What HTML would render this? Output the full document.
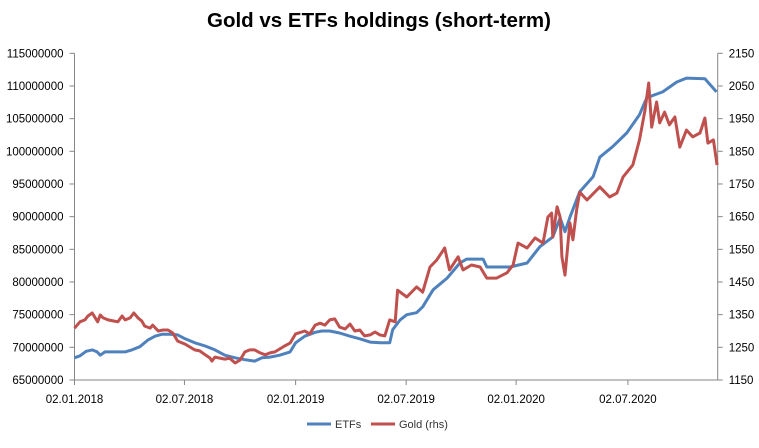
<!DOCTYPE html>
<html><head><meta charset="utf-8">
<style>
body{margin:0;background:#fff;width:759px;height:443px;overflow:hidden;font-family:"Liberation Sans",sans-serif}
svg text{font-family:"Liberation Sans",sans-serif}
</style></head>
<body>
<svg id="chart" width="759" height="443" xmlns="http://www.w3.org/2000/svg">
<text x="379" y="27" text-anchor="middle" font-size="20.5" font-weight="bold" fill="#000">Gold vs ETFs holdings (short-term)</text>
<g id="axes"></g>
<g id="series"></g>
<g>
<line x1="307" y1="424" x2="331" y2="424" stroke="#4F81BD" stroke-width="3"/>
<text x="335" y="428" font-size="11" fill="#333">ETFs</text>
<line x1="371" y1="424" x2="395" y2="424" stroke="#C0504D" stroke-width="3"/>
<text x="399" y="428" font-size="11" fill="#333">Gold (rhs)</text>
</g>
</svg>
<script>
const etfDays=[0,9,19,29,37,42,50,66,83,94,107,120,132,143,156,169,181,197,214,230,246,263,279,295,307,320,336,353,362,377,394,405,418,434,451,467,484,500,516,521,533,544,560,570,587,610,631,642,669,675,713,741,762,783,795,803,811,827,849,860,881,904,925,937,963,986,1002,1032,1051];
const etfValues=[68.4,68.7,69.4,69.6,69.3,68.8,69.3,69.3,69.3,69.6,70.1,71.1,71.7,72.0,72.0,71.9,71.3,70.7,70.2,69.6,68.8,68.4,68.1,67.9,68.4,68.5,68.8,69.3,70.7,71.7,72.3,72.5,72.5,72.2,71.7,71.3,70.8,70.7,70.7,72.7,74.2,75.0,75.3,76.2,78.8,80.6,82.9,83.5,83.5,82.3,82.3,82.9,85.4,86.9,89.8,87.7,89.9,93.8,96.1,99.1,100.7,102.8,105.6,108.2,109.1,110.6,111.2,111.1,109.1];
const goldDays=[0,9,17,22,29,34,38,42,47,55,63,71,78,83,91,97,104,110,115,124,128,137,145,153,161,169,181,189,197,205,214,222,225,230,238,246,254,263,271,279,287,295,304,312,320,328,336,344,353,362,377,385,394,402,410,418,426,434,443,451,459,467,475,484,492,500,508,516,525,529,544,560,570,582,593,606,614,628,636,650,664,675,691,708,718,726,741,754,767,775,781,783,790,795,798,803,811,816,822,827,839,860,876,888,898,914,925,934,940,945,953,958,966,974,983,991,1002,1012,1024,1032,1037,1046,1052];
const goldValues=[1309,1328,1334,1346,1355,1340,1328,1349,1340,1334,1331,1328,1346,1334,1340,1355,1340,1331,1315,1309,1318,1300,1303,1303,1294,1269,1260,1251,1242,1239,1227,1217,1208,1220,1217,1214,1217,1202,1211,1236,1242,1242,1233,1227,1233,1236,1245,1254,1263,1291,1300,1291,1318,1324,1318,1334,1337,1312,1306,1321,1300,1303,1285,1288,1297,1288,1285,1334,1328,1425,1404,1435,1419,1496,1517,1554,1487,1527,1487,1502,1496,1462,1462,1478,1502,1569,1554,1585,1569,1649,1661,1588,1680,1649,1527,1471,1631,1579,1670,1725,1701,1741,1710,1722,1771,1808,1885,1976,2059,1924,2001,1937,1970,1931,1955,1863,1915,1894,1906,1952,1875,1885,1808];
const leftTicks=[65000000,70000000,75000000,80000000,85000000,90000000,95000000,100000000,105000000,110000000,115000000];
const rightTicks=[1150,1250,1350,1450,1550,1650,1750,1850,1950,2050,2150];
const xTickLabels=["02.01.2018","02.07.2018","02.01.2019","02.07.2019","02.01.2020","02.07.2020"];
const xTickDays=[0,180,362,543,723,906];

const X0=74.5,X1=717.7,Y0=380,Y1=53.3,DAYMAX=1053;
const xs=d=>X0+d*(X1-X0)/DAYMAX;
const yL=v=>Y0-(v-65)/(115-65)*(Y0-Y1); // millions
const yR=v=>Y0-(v-1150)/(2150-1150)*(Y0-Y1);
const NS="http://www.w3.org/2000/svg";
const axes=document.getElementById('axes'),series=document.getElementById('series');
function mk(tag,attrs,parent){const e=document.createElementNS(NS,tag);for(const k in attrs)e.setAttribute(k,attrs[k]);parent.appendChild(e);return e;}

let e;
e=mk('line',{x1:X0,y1:Y1,x2:X0,y2:Y0,stroke:'#868686','stroke-width':1},axes);


e=mk('line',{x1:X1,y1:Y1,x2:X1,y2:Y0,stroke:'#868686','stroke-width':1},axes);


e=mk('line',{x1:X0,y1:Y0,x2:X1,y2:Y0,stroke:'#868686','stroke-width':1},axes);



leftTicks.forEach(v=>{const y=yL(v/1e6);
 mk('line',{x1:X0-5,y1:y,x2:X0,y2:y,stroke:'#868686'},axes);
 e=mk('text',{x:X0-11,y:y+4,'text-anchor':'end','font-size':11.5,fill:'#000'},axes);
 e.textContent=String(v);
 
 
});
rightTicks.forEach(v=>{const y=yR(v);
 mk('line',{x1:X1,y1:y,x2:X1+5,y2:y,stroke:'#868686'},axes);
 e=mk('text',{x:X1+11,y:y+4,'text-anchor':'start','font-size':11.5,fill:'#000'},axes);
 e.textContent=String(v);
 
 
});
xTickLabels.forEach((lab,i)=>{const x=xs(xTickDays[i]);
 mk('line',{x1:x,y1:Y0,x2:x,y2:Y0+5,stroke:'#868686'},axes);
 e=mk('text',{x:x,y:Y0+23,'text-anchor':'middle','font-size':11.5,fill:'#000'},axes);
 e.textContent=lab;
 
 
});

const etfPts=etfDays.map((d,i)=>xs(d).toFixed(1)+','+yL(etfValues[i]).toFixed(1)).join(' ');
e=mk('polyline',{points:etfPts,fill:'none',stroke:'#4F81BD','stroke-width':3,'stroke-linejoin':'round'},series);


const goldPts=goldDays.map((d,i)=>xs(d).toFixed(1)+','+yR(goldValues[i]).toFixed(1)).join(' ');
e=mk('polyline',{points:goldPts,fill:'none',stroke:'#C0504D','stroke-width':3,'stroke-linejoin':'round'},series);


</script>
</body></html>
